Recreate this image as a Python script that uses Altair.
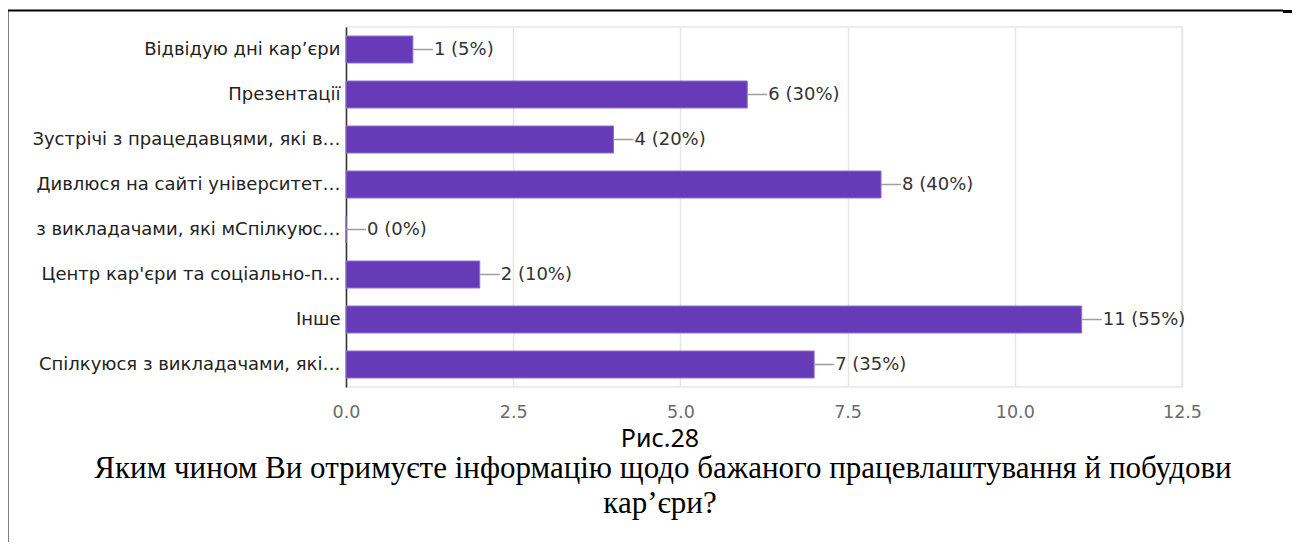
import altair as alt
import pandas as pd

categories = [
    "Відвідую дні кар’єри",
    "Презентації",
    "Зустрічі з працедавцями, які в…",
    "Дивлюся на сайті університет…",
    "з викладачами, які мСпілкуюс…",
    "Центр кар'єри та соціально-п…",
    "Інше",
    "Спілкуюся з викладачами, які…",
]
counts = [1, 6, 4, 8, 0, 2, 11, 7]
percents = [5, 30, 20, 40, 0, 10, 55, 35]
x_ticks = [0, 2.5, 5, 7.5, 10, 12.5]
fig_label = "Рис.28"
caption_1 = "Яким чином Ви отримуєте інформацію щодо бажаного працевлаштування й побудови"
caption_2 = "кар’єри?"

df = pd.DataFrame({"cat": categories, "value": counts, "pct": percents})
df["label"] = [f"{c} ({p}%)" for c, p in zip(counts, percents)]

W, H = 836, 360
PX_PER_UNIT = W / 12.5
CHART_FONT = "DejaVu Sans"

base = alt.Chart(df)

y_enc = alt.Y("cat:N", sort=None, title=None,
              scale=alt.Scale(paddingInner=0.4, paddingOuter=0.2),
              axis=alt.Axis(labelFontSize=18, labelColor="#222222", labelFont=CHART_FONT,
                            ticks=False, labelPadding=6, domainColor="#333333", domainWidth=1.5,
                            labelLimit=400, grid=False))
x_enc = alt.X("value:Q", title=None,
              scale=alt.Scale(domain=[0, 12.5], nice=False),
              axis=alt.Axis(values=x_ticks, format=".1f", labelFontSize=17.5, labelColor="#6b6b6b",
                            labelFont=CHART_FONT, ticks=False, domain=False, labelPadding=16,
                            labelFlush=False, gridColor="#e6e6e6", gridWidth=1.5))

bars = base.mark_bar(color="#673ab7", stroke="#8f72cc", strokeWidth=1).encode(x=x_enc, y=y_enc)

leaders = base.transform_calculate(
    x2v=f"datum.value + {20 / PX_PER_UNIT}"
).mark_rule(color="#9e9e9e", strokeWidth=1.5).encode(
    x=alt.X("value:Q"), x2="x2v:Q", y=alt.Y("cat:N", sort=None)
)

labels = base.mark_text(align="left", baseline="middle", dx=21, fontSize=18,
                        font=CHART_FONT, color="#333333").encode(
    x=alt.X("value:Q"), y=alt.Y("cat:N", sort=None), text="label:N"
)

one = pd.DataFrame({"a": [0]})
ann = alt.Chart(one)

fig_txt = ann.mark_text(text=fig_label, font="Noto Sans", fontSize=25, color="#000000",
                        align="center", baseline="alphabetic").encode(x=alt.value(314), y=alt.value(420))
cap1 = ann.mark_text(text=caption_1, font="Liberation Serif", fontSize=31, color="#000000",
                     align="center", baseline="alphabetic").encode(x=alt.value(317), y=alt.value(451))
cap2 = ann.mark_text(text=caption_2, font="Liberation Serif", fontSize=31, color="#000000",
                     align="center", baseline="alphabetic").encode(x=alt.value(314), y=alt.value(486))

left_border = ann.mark_rule(color="#000000", strokeWidth=2).encode(
    x=alt.value(-338.5), y=alt.value(-17), y2=alt.value(515))
top_border = ann.mark_rule(color="#000000", strokeWidth=2).encode(
    x=alt.value(-339.5), x2=alt.value(937), y=alt.value(-16.5))
top_border2 = ann.mark_rule(color="#000000", strokeWidth=3).encode(
    x=alt.value(937), x2=alt.value(950), y=alt.value(-15.5))

chart = alt.layer(bars, leaders, labels, fig_txt, cap1, cap2, left_border, top_border, top_border2).properties(
    width=W, height=H,
    autosize=alt.AutoSizeParams(type="none"),
    padding={"left": 338, "top": 19, "right": 110, "bottom": 160},
    background="#ffffff",
).configure_view(stroke="#e6e6e6", strokeWidth=1.5)

chart.save("out.html", embed_options={"renderer": "svg", "actions": False})
